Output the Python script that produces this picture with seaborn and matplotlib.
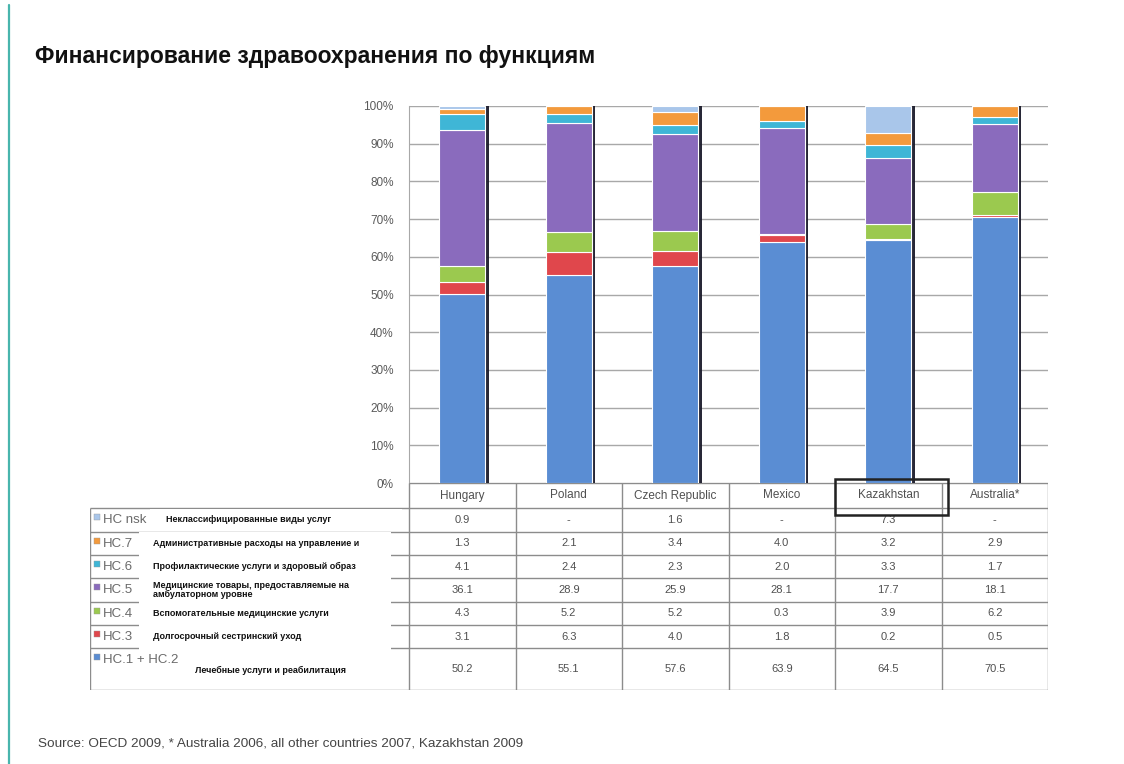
import matplotlib
matplotlib.use("Agg")
import matplotlib.pyplot as plt
import matplotlib.patheffects as pe
from matplotlib.patches import Rectangle
from matplotlib.lines import Line2D
import seaborn as sns

# ---------------- data ----------------
countries = ["Hungary", "Poland", "Czech Republic", "Mexico", "Kazakhstan", "Australia*"]
hc12 = [50.2, 55.1, 57.6, 63.9, 64.5, 70.5]
hc3 = [3.1, 6.3, 4.0, 1.8, 0.2, 0.5]
hc4 = [4.3, 5.2, 5.2, 0.3, 3.9, 6.2]
hc5 = [36.1, 28.9, 25.9, 28.1, 17.7, 18.1]
hc6 = [4.1, 2.4, 2.3, 2.0, 3.3, 1.7]
hc7 = [1.3, 2.1, 3.4, 4.0, 3.2, 2.9]
hcnsk = [0.9, None, 1.6, None, 7.3, None]

series_values = [hc12, hc3, hc4, hc5, hc6, hc7, hcnsk]  # bottom -> top
series_codes = ["HC.1 + HC.2", "HC.3", "HC.4", "HC.5", "HC.6", "HC.7", "HC nsk"]
series_ru = ["Лечебные услуги и реабилитация",
             "Долгосрочный сестринский уход",
             "Вспомогательные медицинские услуги",
             "Медицинские товары, предоставляемые на\nамбулаторном уровне",
             "Профилактические услуги и здоровый образ",
             "Административные расходы на управление и",
             "Неклассифицированные виды услуг"]
series_colors = ["#5a8dd3", "#e0474c", "#9bc94f", "#8a6bbd", "#3fb6d6", "#f39a3c", "#a9c6ea"]
ytick_vals = [0, 10, 20, 30, 40, 50, 60, 70, 80, 90, 100]
ytick_labels = ["0%", "10%", "20%", "30%", "40%", "50%", "60%", "70%", "80%", "90%", "100%"]
title = "Финансирование здравоохранения по функциям"
source = "Source: OECD 2009, * Australia 2006, all other countries 2007, Kazakhstan 2009"

# ---------------- style ----------------
sns.set_style("white")
plt.rcParams['font.family'] = ['Liberation Sans', 'DejaVu Sans']

W, H = 1124, 764
fig = plt.figure(figsize=(W / 100, H / 100), dpi=100)
fig.patch.set_facecolor("white")


def fx(px):
    return px / W


def fy(py):
    return 1 - py / H


# chart axes
x_left, x_right, y_top, y_bot = 409, 1048, 106, 483
ax = fig.add_axes([fx(x_left), fy(y_bot), fx(x_right - x_left), (y_bot - y_top) / H])

bottom = [0.0] * len(countries)
for vals, col in zip(series_values, series_colors):
    v = [0.0 if x is None else x for x in vals]
    sns.barplot(x=countries, y=v, bottom=bottom, color=col, width=0.43,
                order=countries, errorbar=None, ax=ax,
                edgecolor="white", linewidth=0.8, saturation=1)
    bottom = [b + x for b, x in zip(bottom, v)]

for p in ax.patches:
    p.set_path_effects([pe.SimplePatchShadow(offset=(2.6, 0), shadow_rgbFace="#1c1c2c", alpha=0.95),
                        pe.Normal()])
    p.set_zorder(3)

ax.set_xlim(-0.5, 5.5)
ax.set_ylim(0, 100)
ax.set_yticks(ytick_vals)
ax.set_yticklabels(ytick_labels, fontsize=8.5, color="#5a5a5a")
ax.set_xticks([])
ax.set_xlabel("")
ax.set_ylabel("")
ax.yaxis.grid(True, color="#a8a8a8", linewidth=1.0)
ax.set_axisbelow(True)
for s in ["top", "right", "bottom"]:
    ax.spines[s].set_visible(False)
ax.spines["left"].set_color("#a8a8a8")
ax.tick_params(axis="y", length=5, color="#a8a8a8", pad=6)
ax.set_facecolor("none")

# ---------------- data table ----------------
tab_left = 90
unit = (x_right - x_left) / 6.0
x0_data = -0.5 - (x_left - tab_left) / unit


def px2x(px):
    return -0.5 + (px - x_left) / unit


row_edges = [483, 508, 532, 555, 578, 602, 625, 648, 690]
tax = fig.add_axes([fx(tab_left), fy(690), fx(x_right - tab_left), (690 - 483) / H])
tax.set_xlim(x0_data, 5.5)
tax.set_ylim(690, 483)
tax.axis("off")

lc = "#8c8c8c"
tax.hlines(row_edges[0], -0.5, 5.5, color=lc, lw=1.0)
tax.hlines(row_edges[1:], x0_data, 5.5, color=lc, lw=1.0)
tax.vlines([i - 0.5 for i in range(7)], 483, 690, color=lc, lw=1.0)
tax.vlines([x0_data + 0.004], 508, 690, color=lc, lw=1.0)

# header
for i, c in enumerate(countries):
    tax.text(i, (row_edges[0] + row_edges[1]) / 2, c, ha="center", va="center",
             fontsize=8.5, color="#505050")

# rows: table order top -> bottom is reverse of stacking order
order = list(range(len(series_values)))[::-1]
for r, si in enumerate(order):
    y0, y1 = row_edges[r + 1], row_edges[r + 2]
    yc = (y0 + y1) / 2
    for i in range(len(countries)):
        v = series_values[si][i]
        txt = "-" if v is None else f"{v:.1f}"
        tax.text(i, yc, txt, ha="center", va="center", fontsize=8, color="#505050")
    # legend key + code
    ytxt = y0 + 12
    tax.plot([px2x(97)], [ytxt - 3], marker="s", markersize=3.8, color=series_colors[si],
             markeredgecolor="#999999", markeredgewidth=0.3, linestyle="none")
    tax.text(px2x(103), ytxt, series_codes[si], ha="left", va="center",
             fontsize=9.5, color="#6a6a6a")

# white cover boxes with russian labels
tax.add_patch(Rectangle((px2x(150), 509), px2x(402) - px2x(150), 22, facecolor="white",
                        edgecolor="none", zorder=5))
tax.add_patch(Rectangle((px2x(139), 532), px2x(391) - px2x(139), 118, facecolor="white",
                        edgecolor="none", zorder=5))
tax.add_patch(Rectangle((px2x(182), 656), px2x(387) - px2x(182), 31, facecolor="white",
                        edgecolor="none", zorder=5))

for r, si in enumerate(order):
    y0, y1 = row_edges[r + 1], row_edges[r + 2]
    yc = (y0 + y1) / 2
    if si == 6:
        xs = px2x(166)
    elif si == 0:
        xs = px2x(195)
        yc = 670
    else:
        xs = px2x(153)
    tax.text(xs, yc, series_ru[si], ha="left", va="center", fontsize=6.5,
             fontweight="bold", color="#111111", zorder=6, linespacing=1.0)

# Kazakhstan highlight box
tax.add_patch(Rectangle((px2x(835), 479), px2x(948) - px2x(835), 36, facecolor="none",
                        edgecolor="#222222", linewidth=1.8, zorder=7, clip_on=False))

# ---------------- page decoration ----------------
fig.add_artist(Line2D([fx(8.5), fx(8.5)], [0, fy(5)], color="#48b5ad", linewidth=1.6))
fig.text(fx(35), fy(57), title, fontsize=16.5, fontweight="bold", color="#111111",
         ha="left", va="center")
fig.text(fx(38), fy(743), source, fontsize=9.7, color="#444444", ha="left", va="center")

fig.savefig("out.png", dpi=100, facecolor="white")
